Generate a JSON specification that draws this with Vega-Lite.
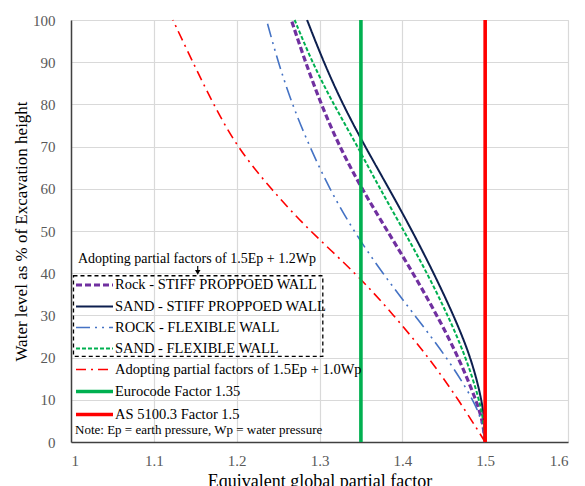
{
  "$schema": "https://vega.github.io/schema/vega-lite/v6.json",
  "width": 497,
  "height": 422,
  "autosize": {"type": "none"},
  "padding": {"left": 71, "top": 20, "right": 17, "bottom": 44},
  "background": "white",
  "config": {
    "view": {"stroke": "#d9d9d9", "strokeWidth": 1},
    "axis": {
      "grid": true, "gridColor": "#d9d9d9", "gridWidth": 1.2,
      "ticks": false, "domainColor": "#404040", "domainWidth": 1.5,
      "labelFont": "Liberation Serif", "labelFontSize": 15, "labelColor": "#595959",
      "titleFont": "Liberation Serif", "titleFontSize": 18, "titleFontWeight": "normal", "titleColor": "#000000"
    },
    "legend": {
      "labelFont": "Liberation Serif", "labelFontSize": 14.5, "labelColor": "#000000", "labelLimit": 400,
      "titleFont": "Liberation Serif", "titleFontSize": 13, "titleFontWeight": "normal", "titleColor": "#000000", "titleLimit": 400
    }
  },
  "datasets": {
    "curves": [
      {"series": "Rock - STIFF PROPPOED WALL", "x": 1.266, "y": 100},
      {"series": "Rock - STIFF PROPPOED WALL", "x": 1.283, "y": 90},
      {"series": "Rock - STIFF PROPPOED WALL", "x": 1.302, "y": 80},
      {"series": "Rock - STIFF PROPPOED WALL", "x": 1.324, "y": 70},
      {"series": "Rock - STIFF PROPPOED WALL", "x": 1.351, "y": 60},
      {"series": "Rock - STIFF PROPPOED WALL", "x": 1.382, "y": 50},
      {"series": "Rock - STIFF PROPPOED WALL", "x": 1.413, "y": 40},
      {"series": "Rock - STIFF PROPPOED WALL", "x": 1.442, "y": 30},
      {"series": "Rock - STIFF PROPPOED WALL", "x": 1.468, "y": 20},
      {"series": "Rock - STIFF PROPPOED WALL", "x": 1.489, "y": 10},
      {"series": "Rock - STIFF PROPPOED WALL", "x": 1.497, "y": 5},
      {"series": "Rock - STIFF PROPPOED WALL", "x": 1.5, "y": 0},
      {"series": "SAND - STIFF PROPPOED WALL", "x": 1.285, "y": 100},
      {"series": "SAND - STIFF PROPPOED WALL", "x": 1.305, "y": 90},
      {"series": "SAND - STIFF PROPPOED WALL", "x": 1.328, "y": 80},
      {"series": "SAND - STIFF PROPPOED WALL", "x": 1.355, "y": 70},
      {"series": "SAND - STIFF PROPPOED WALL", "x": 1.384, "y": 60},
      {"series": "SAND - STIFF PROPPOED WALL", "x": 1.412, "y": 50},
      {"series": "SAND - STIFF PROPPOED WALL", "x": 1.438, "y": 40},
      {"series": "SAND - STIFF PROPPOED WALL", "x": 1.462, "y": 30},
      {"series": "SAND - STIFF PROPPOED WALL", "x": 1.483, "y": 20},
      {"series": "SAND - STIFF PROPPOED WALL", "x": 1.496, "y": 10},
      {"series": "SAND - STIFF PROPPOED WALL", "x": 1.499, "y": 5},
      {"series": "SAND - STIFF PROPPOED WALL", "x": 1.5, "y": 0},
      {"series": "ROCK - FLEXIBLE WALL", "x": 1.236, "y": 100},
      {"series": "ROCK - FLEXIBLE WALL", "x": 1.25, "y": 90},
      {"series": "ROCK - FLEXIBLE WALL", "x": 1.267, "y": 80},
      {"series": "ROCK - FLEXIBLE WALL", "x": 1.288, "y": 70},
      {"series": "ROCK - FLEXIBLE WALL", "x": 1.312, "y": 60},
      {"series": "ROCK - FLEXIBLE WALL", "x": 1.341, "y": 50},
      {"series": "ROCK - FLEXIBLE WALL", "x": 1.376, "y": 40},
      {"series": "ROCK - FLEXIBLE WALL", "x": 1.415, "y": 30},
      {"series": "ROCK - FLEXIBLE WALL", "x": 1.454, "y": 20},
      {"series": "ROCK - FLEXIBLE WALL", "x": 1.486, "y": 10},
      {"series": "ROCK - FLEXIBLE WALL", "x": 1.496, "y": 5},
      {"series": "ROCK - FLEXIBLE WALL", "x": 1.5, "y": 0},
      {"series": "SAND - FLEXIBLE WALL", "x": 1.27, "y": 100},
      {"series": "SAND - FLEXIBLE WALL", "x": 1.291, "y": 90},
      {"series": "SAND - FLEXIBLE WALL", "x": 1.317, "y": 80},
      {"series": "SAND - FLEXIBLE WALL", "x": 1.346, "y": 70},
      {"series": "SAND - FLEXIBLE WALL", "x": 1.373, "y": 60},
      {"series": "SAND - FLEXIBLE WALL", "x": 1.402, "y": 50},
      {"series": "SAND - FLEXIBLE WALL", "x": 1.43, "y": 40},
      {"series": "SAND - FLEXIBLE WALL", "x": 1.455, "y": 30},
      {"series": "SAND - FLEXIBLE WALL", "x": 1.477, "y": 20},
      {"series": "SAND - FLEXIBLE WALL", "x": 1.493, "y": 10},
      {"series": "SAND - FLEXIBLE WALL", "x": 1.498, "y": 5},
      {"series": "SAND - FLEXIBLE WALL", "x": 1.5, "y": 0},
      {"series": "Adopting partial factors of 1.5Ep + 1.0Wp", "x": 1.123, "y": 100},
      {"series": "Adopting partial factors of 1.5Ep + 1.0Wp", "x": 1.147, "y": 90},
      {"series": "Adopting partial factors of 1.5Ep + 1.0Wp", "x": 1.172, "y": 80},
      {"series": "Adopting partial factors of 1.5Ep + 1.0Wp", "x": 1.2, "y": 70},
      {"series": "Adopting partial factors of 1.5Ep + 1.0Wp", "x": 1.241, "y": 60},
      {"series": "Adopting partial factors of 1.5Ep + 1.0Wp", "x": 1.288, "y": 50},
      {"series": "Adopting partial factors of 1.5Ep + 1.0Wp", "x": 1.344, "y": 40},
      {"series": "Adopting partial factors of 1.5Ep + 1.0Wp", "x": 1.39, "y": 30},
      {"series": "Adopting partial factors of 1.5Ep + 1.0Wp", "x": 1.432, "y": 20},
      {"series": "Adopting partial factors of 1.5Ep + 1.0Wp", "x": 1.468, "y": 10},
      {"series": "Adopting partial factors of 1.5Ep + 1.0Wp", "x": 1.5, "y": 0},
      {"series": "Eurocode Factor 1.35", "x": 1.35, "y": 0},
      {"series": "Eurocode Factor 1.35", "x": 1.35, "y": 100},
      {"series": "AS 5100.3 Factor 1.5", "x": 1.5, "y": 0},
      {"series": "AS 5100.3 Factor 1.5", "x": 1.5, "y": 100}
    ],
    "box": [{"x": 1.003, "x2": 1.304, "y": 20.3, "y2": 39.4}],
    "note": [{"x": 1.152, "y": 43.3, "text": "Adopting partial factors of 1.5Ep + 1.2Wp"}],
    "arrow": [{"x": 1.153, "y": 41.7, "y2": 40.4, "yh": 40.2}]
  },
  "layer": [
    {
      "data": {"name": "curves"},
      "mark": {"type": "line", "interpolate": "basis"},
      "encoding": {
        "x": {"field": "x", "type": "quantitative",
              "scale": {"domain": [1, 1.6], "nice": false, "zero": false},
              "axis": {"values": [1, 1.1, 1.2, 1.3, 1.4, 1.5, 1.6], "format": "~g", "labelPadding": 11, "titlePadding": 4},
              "title": "Equivalent global partial factor"},
        "y": {"field": "y", "type": "quantitative",
              "scale": {"domain": [0, 100], "nice": false},
              "axis": {"values": [0, 10, 20, 30, 40, 50, 60, 70, 80, 90, 100], "labelPadding": 16, "titlePadding": 2, "titleFontSize": 17},
              "title": "Water level as % of Excavation height"},
        "order": {"field": "y", "type": "quantitative"},
        "color": {"field": "series", "type": "nominal",
          "scale": {
            "domain": ["Rock - STIFF PROPPOED WALL", "SAND - STIFF PROPPOED WALL", "ROCK - FLEXIBLE WALL", "SAND - FLEXIBLE WALL", "Adopting partial factors of 1.5Ep + 1.0Wp", "Eurocode Factor 1.35", "AS 5100.3 Factor 1.5"],
            "range": ["#7030a0", "#0d1f4f", "#4472c4", "#00b050", "#ff0000", "#00b050", "#ff0000"]},
          "legend": {
            "title": "Note: Ep = earth pressure, Wp = water pressure",
            "orient": "none", "legendX": 4, "legendY": 254,
            "titleOrient": "bottom", "titleAnchor": "start", "titlePadding": 2,
            "symbolType": "M-2,0H2", "symbolSize": 342, "symbolOffset": 8, "labelOffset": 9,
            "rowPadding": 4, "padding": 0
          }},
        "strokeDash": {"field": "series", "type": "nominal",
          "scale": {
            "domain": ["Rock - STIFF PROPPOED WALL", "SAND - STIFF PROPPOED WALL", "ROCK - FLEXIBLE WALL", "SAND - FLEXIBLE WALL", "Adopting partial factors of 1.5Ep + 1.0Wp", "Eurocode Factor 1.35", "AS 5100.3 Factor 1.5"],
            "range": [[6, 3], [1, 0], [14, 5, 2, 5, 2, 5], [4, 2], [10, 5, 2, 5], [1, 0], [1, 0]]},
          "legend": {"title": "Note: Ep = earth pressure, Wp = water pressure"}},
        "strokeWidth": {"field": "series", "type": "nominal",
          "scale": {
            "type": "ordinal",
            "domain": ["Rock - STIFF PROPPOED WALL", "SAND - STIFF PROPPOED WALL", "ROCK - FLEXIBLE WALL", "SAND - FLEXIBLE WALL", "Adopting partial factors of 1.5Ep + 1.0Wp", "Eurocode Factor 1.35", "AS 5100.3 Factor 1.5"],
            "range": [3.2, 2, 1.6, 2, 1.6, 3.6, 3.6]},
          "legend": {"title": "Note: Ep = earth pressure, Wp = water pressure"}}
      }
    },
    {
      "data": {"name": "box"},
      "mark": {"type": "rect", "fill": null, "stroke": "#000000", "strokeWidth": 1.3, "strokeDash": [4, 3]},
      "encoding": {
        "x": {"field": "x", "type": "quantitative"},
        "x2": {"field": "x2"},
        "y": {"field": "y", "type": "quantitative"},
        "y2": {"field": "y2"}
      }
    },
    {
      "data": {"name": "note"},
      "mark": {"type": "text", "font": "Liberation Serif", "fontSize": 14, "color": "#000000", "align": "center", "baseline": "middle"},
      "encoding": {
        "x": {"field": "x", "type": "quantitative"},
        "y": {"field": "y", "type": "quantitative"},
        "text": {"field": "text"}
      }
    },
    {
      "data": {"name": "arrow"},
      "mark": {"type": "rule", "color": "#000000", "strokeWidth": 1.2},
      "encoding": {
        "x": {"field": "x", "type": "quantitative"},
        "y": {"field": "y", "type": "quantitative"},
        "y2": {"field": "y2"}
      }
    },
    {
      "data": {"name": "arrow"},
      "mark": {"type": "point", "shape": "triangle-down", "filled": true, "color": "#000000", "size": 30, "opacity": 1},
      "encoding": {
        "x": {"field": "x", "type": "quantitative"},
        "y": {"field": "yh", "type": "quantitative"}
      }
    }
  ]
}
